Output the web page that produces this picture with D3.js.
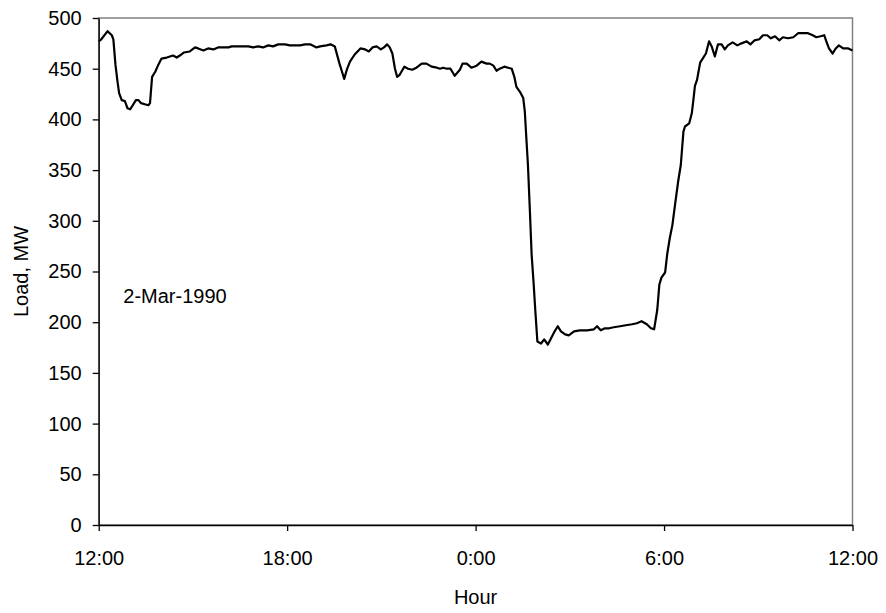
<!DOCTYPE html>
<html>
<head>
<meta charset="utf-8">
<script src="https://cdn.jsdelivr.net/npm/d3@7"></script>
<style>
body { margin: 0; background: #fff; }
text { font-family: "Liberation Sans", Arial, sans-serif; }
</style>
</head>
<body>
<div id="chart"></div>
<script>
// minutes after 12:00 on 2-Mar-1990
var minutes = [0,5,17,25,28,32,36,39,44,50,55,60,64,71,76,81,88,95,98,102,
  108,114,120,130,136,142,149,155,163,174,184,190,200,209,219,228,248,254,267,286,
  295,305,314,324,333,343,356,365,375,385,394,404,416,423,435,443,451,460,466,469,
  474,480,489,500,509,516,523,531,539,545,551,556,561,566,570,575,584,591,599,607,
  617,626,636,646,652,658,665,672,680,690,695,703,712,722,731,741,747,754,760,766,
  775,782,789,794,798,805,811,814,817,820,824,827,831,834,838,845,851,858,864,871,
  877,883,891,898,908,919,933,946,952,959,967,975,984,996,1007,1019,1028,1037,1047,1055,
  1061,1067,1071,1075,1082,1086,1091,1096,1101,1107,1112,1117,1120,1128,1133,1136,1139,1143,1149,1155,
  1160,1166,1171,1177,1183,1190,1196,1202,1211,1220,1228,1238,1245,1253,1262,1269,1277,1284,1292,1300,
  1307,1317,1327,1336,1346,1355,1364,1371,1379,1386,1390,1395,1402,1408,1414,1422,1432,1440];

// load, MW
var load = [477,479,487,483,479,454,437,426,419,418,411,410,413,419,419,416,415,414,416,442,
  447,454,460,461,462,463,461,463,466,467,471,470,468,470,469,471,471,472,472,472,
  471,472,471,473,472,474,474,473,473,473,474,474,471,472,473,474,472,455,445,440,
  449,457,464,470,469,467,471,472,469,471,474,471,465,450,442,444,452,450,449,451,
  455,455,452,451,450,451,450,450,443,449,455,455,451,453,457,455,455,453,448,450,
  452,451,450,442,432,427,421,408,381,355,306,267,237,212,181,179,183,178,184,191,
  196,191,188,187,191,192,192,193,196,192,194,194,195,196,197,198,199,201,198,194,
  193,212,237,244,249,267,283,296,316,339,355,388,393,396,406,419,433,439,456,461,
  465,477,472,462,474,474,469,473,476,473,475,477,474,478,479,483,483,480,482,478,
  481,480,481,485,485,485,483,481,482,483,477,470,465,470,473,470,470,468];

var yTicks = [0,50,100,150,200,250,300,350,400,450,500];
var xTicks = [0,360,720,1080,1440];
var xTickLabels = ["12:00","18:00","0:00","6:00","12:00"];

var margin = {top: 18, right: 33.5, bottom: 88, left: 98.7},
    width = 886 - margin.left - margin.right,
    height = 613 - margin.top - margin.bottom;

var data = minutes.map(function(m, i) { return {m: m, v: load[i]}; });

var x = d3.scaleLinear().domain([0, 1440]).range([0, width]);
var y = d3.scaleLinear().domain([0, 500]).range([height, 0]);

var svg = d3.select("#chart").append("svg")
    .attr("width", 886)
    .attr("height", 613)
  .append("g")
    .attr("transform", "translate(" + margin.left + "," + margin.top + ")");

// plot area frame
svg.append("rect")
    .attr("width", width)
    .attr("height", height)
    .attr("fill", "none")
    .attr("stroke", "#808080")
    .attr("stroke-width", 1.5);

// Axes
var yAxis = svg.append("g")
    .call(d3.axisLeft(y).tickValues(yTicks).tickSize(6).tickSizeOuter(0).tickPadding(11));

var xAxis = svg.append("g")
    .attr("transform", "translate(0," + height + ")")
    .call(d3.axisBottom(x).tickValues(xTicks).tickSize(6).tickSizeOuter(0).tickPadding(20)
      .tickFormat(function(d, i) { return xTickLabels[i]; }));

[yAxis, xAxis].forEach(function(a) {
  a.selectAll("text").style("font-size", "20px").attr("fill", "#000")
    .style("font-family", "'Liberation Sans', Arial, sans-serif");
  a.select(".domain").attr("stroke", "#000").attr("stroke-width", 1.3);
  a.selectAll(".tick line").attr("stroke", "#000").attr("stroke-width", 1.3);
});

// the load line
var line = d3.line()
    .x(function(d) { return x(d.m); })
    .y(function(d) { return y(d.v); });

svg.append("path")
    .datum(data)
    .attr("fill", "none")
    .attr("stroke", "#000")
    .attr("stroke-width", 2.2)
    .attr("stroke-linejoin", "round")
    .attr("d", line);

// Labels
svg.append("text")
    .attr("text-anchor", "middle")
    .style("font-size", "20px")
    .attr("transform", "translate(" + (28 - margin.left) + "," + (height / 2) + ")rotate(-90)")
    .text("Load, MW");

svg.append("text")
    .attr("text-anchor", "middle")
    .style("font-size", "20px")
    .attr("x", width / 2)
    .attr("y", 604 - margin.top)
    .text("Hour");

svg.append("text")
    .style("font-size", "20px")
    .attr("x", 123.3 - margin.left)
    .attr("y", 303 - margin.top)
    .text("2-Mar-1990");
</script>
</body>
</html>
